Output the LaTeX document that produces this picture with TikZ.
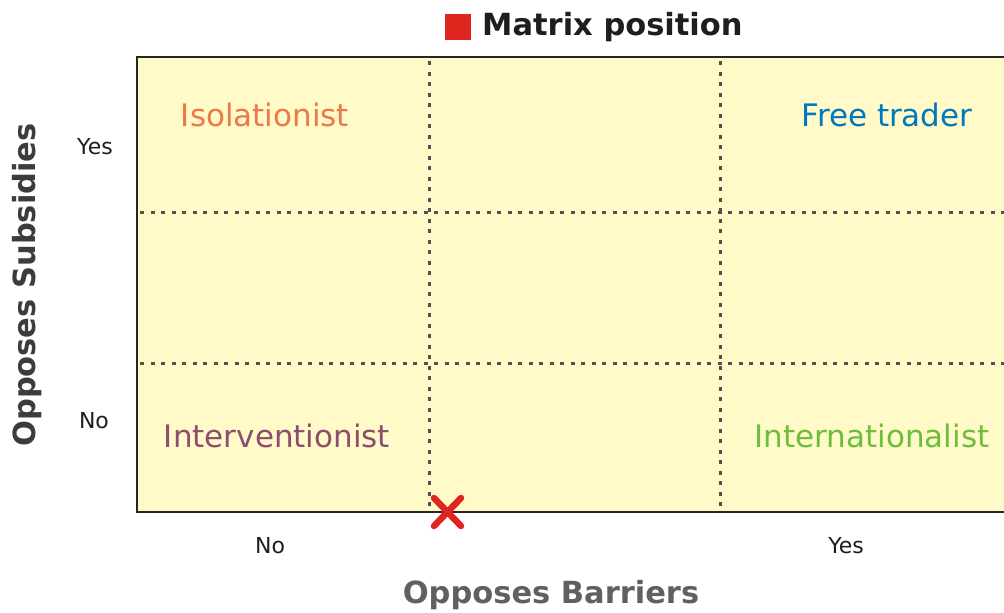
\documentclass[tikz,border=0pt]{standalone}
\usepackage{fontspec}
\setmainfont{DejaVu Sans}
\definecolor{cellfill}{RGB}{255,250,200}
\definecolor{gridgray}{RGB}{80,80,80}
\definecolor{isocol}{RGB}{234,122,72}
\definecolor{freecol}{RGB}{0,120,190}
\definecolor{intervcol}{RGB}{140,78,110}
\definecolor{internatcol}{RGB}{108,190,60}
\definecolor{markred}{RGB}{222,38,30}
\definecolor{axisgray}{RGB}{96,96,96}
\definecolor{sidegray}{RGB}{60,60,60}
\definecolor{titleblack}{RGB}{30,30,30}
\tikzset{
  quadlabel/.style={font=\fontsize{31}{34}\selectfont, inner sep=0pt},
  ticklabel/.style={font=\fontsize{22}{24}\selectfont, text=titleblack, inner sep=0pt},
  axislabel/.style={font=\fontsize{30.5}{33}\selectfont\bfseries, inner sep=0pt},
  gridline/.style={draw=gridgray, line width=3pt, dash pattern=on 4pt off 6.5pt},
  frameline/.style={draw=black!85, line width=2pt},
}
\begin{document}
\begin{tikzpicture}[x=1pt,y=-1pt]
\useasboundingbox (0,0) rectangle (1004,613);
% background cells
\fill[cellfill] (137,57) rectangle (1004,512);
% grid
\draw[gridline] (429,61) -- (429,510);
\draw[gridline] (720,61) -- (720,510);
\draw[gridline] (140,212) -- (1004,212);
\draw[gridline] (140,363) -- (1004,363);
% frame
\draw[frameline] (1004,57) -- (137,57) -- (137,512) -- (1004,512);
% title
\fill[markred] (445,14) rectangle (471,40);
\node[axislabel, text=titleblack, anchor=west] (title) at (482,27) {Matrix position};
% quadrant labels
\node[quadlabel, text=isocol] (iso) at (265,115) {Isolationist};
\node[quadlabel, text=freecol] (free) at (887,115) {Free trader};
\node[quadlabel, text=intervcol] (interv) at (277,436) {Interventionist};
\node[quadlabel, text=internatcol] (internat) at (872,436) {Internationalist};
% tick labels
\node[ticklabel] (yyes) at (95,147) {Yes};
\node[ticklabel] (yno) at (94,421) {No};
\node[ticklabel] (xno) at (270,546) {No};
\node[ticklabel] (xyes) at (846,546) {Yes};
% axis labels
\node[axislabel, text=axisgray] (xlab) at (551,595) {Opposes Barriers};
\node[axislabel, text=sidegray, rotate=90] (ylab) at (27,285) {Opposes Subsidies};
% marker
\draw[markred, line width=6.5pt, line cap=round] (434,498) -- (461,526) (461,498) -- (434,526);
\end{tikzpicture}
\end{document}
